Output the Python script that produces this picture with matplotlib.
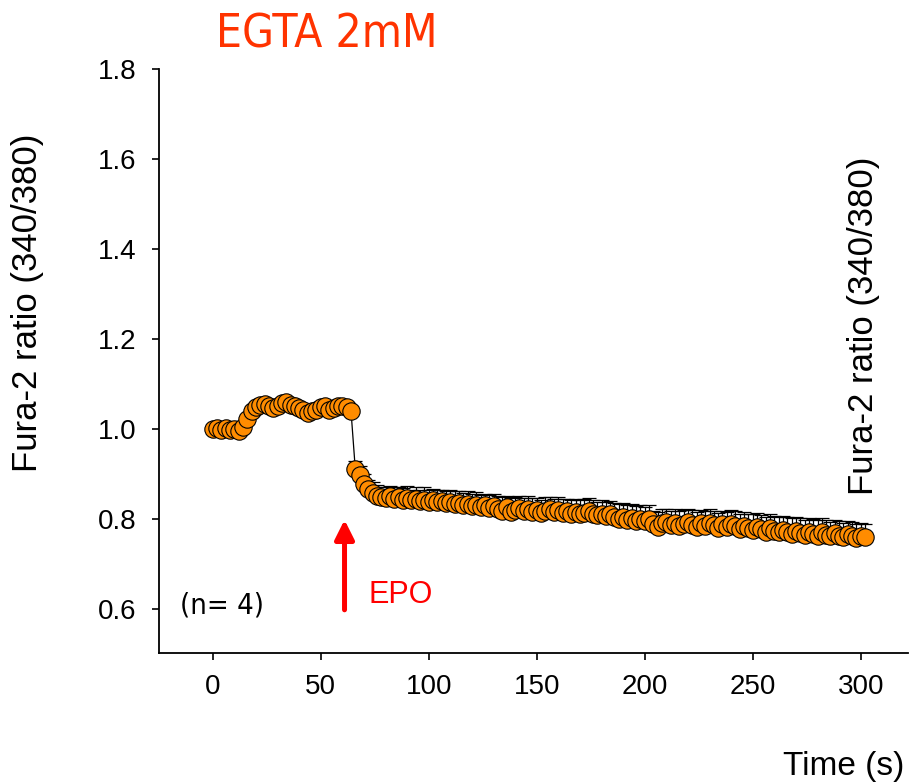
import numpy as np
import matplotlib
matplotlib.use("Agg")
import matplotlib.pyplot as plt
from matplotlib import font_manager

# baseline (before EPO), sampled every 2 s
t_pre = np.arange(0, 66, 2)
ratio_pre = [1.000, 1.002, 0.998, 1.001, 0.997, 0.999, 0.995, 1.004,
             1.022, 1.040, 1.049, 1.053, 1.055, 1.050, 1.047, 1.052,
             1.057, 1.060, 1.054, 1.050, 1.046, 1.041, 1.036, 1.039,
             1.043, 1.048, 1.050, 1.041, 1.046, 1.052, 1.050, 1.048,
             1.040]
sem_pre = [0.008, 0.007, 0.008, 0.009, 0.008, 0.007, 0.008, 0.009,
           0.010, 0.011, 0.010, 0.012, 0.011, 0.010, 0.012, 0.011,
           0.012, 0.011, 0.010, 0.012, 0.011, 0.012, 0.010, 0.011,
           0.012, 0.011, 0.010, 0.012, 0.011, 0.012, 0.011, 0.010,
           0.012]

# after EPO
t_post = np.arange(66, 304, 2)
ratio_post = [0.910, 0.898, 0.878, 0.866, 0.858, 0.852, 0.848, 0.846,
              0.850, 0.844, 0.848, 0.843, 0.846, 0.841, 0.845, 0.840,
              0.843, 0.838, 0.842, 0.837, 0.840, 0.835, 0.838, 0.834,
              0.836, 0.830, 0.834, 0.829, 0.832, 0.826, 0.830, 0.824,
              0.828, 0.822, 0.818, 0.826, 0.815, 0.820, 0.824, 0.818,
              0.822, 0.816, 0.820, 0.814, 0.818, 0.821, 0.815, 0.819,
              0.813, 0.817, 0.812, 0.816, 0.810, 0.814, 0.818, 0.811,
              0.808, 0.812, 0.806, 0.810, 0.804, 0.800, 0.805, 0.798,
              0.802, 0.796, 0.800, 0.795, 0.799, 0.788, 0.782, 0.790,
              0.794, 0.786, 0.791, 0.784, 0.789, 0.793, 0.787, 0.781,
              0.790, 0.785, 0.792, 0.786, 0.780, 0.788, 0.783, 0.789,
              0.784, 0.778, 0.785, 0.780, 0.776, 0.783, 0.777, 0.772,
              0.779, 0.774, 0.770, 0.776, 0.771, 0.767, 0.774, 0.769,
              0.765, 0.772, 0.767, 0.763, 0.770, 0.765, 0.761, 0.768,
              0.763, 0.760, 0.766, 0.761, 0.758, 0.762, 0.760]
sem_post = [0.018, 0.020, 0.022, 0.021, 0.023, 0.024, 0.022, 0.025,
            0.024, 0.026, 0.023, 0.025, 0.027, 0.024, 0.026, 0.025,
            0.027, 0.026, 0.024, 0.028, 0.025, 0.027, 0.026, 0.028,
            0.025, 0.027, 0.029, 0.026, 0.028, 0.027, 0.025, 0.029,
            0.027, 0.028, 0.030, 0.026, 0.031, 0.028, 0.027, 0.029,
            0.028, 0.030, 0.027, 0.029, 0.031, 0.028, 0.030, 0.029,
            0.031, 0.028, 0.030, 0.029, 0.032, 0.030, 0.028, 0.031,
            0.030, 0.029, 0.032, 0.030, 0.031, 0.033, 0.030, 0.032,
            0.031, 0.033, 0.030, 0.032, 0.031, 0.030, 0.033, 0.031,
            0.029, 0.032, 0.030, 0.033, 0.031, 0.029, 0.032, 0.034,
            0.030, 0.032, 0.029, 0.031, 0.033, 0.030, 0.032, 0.031,
            0.033, 0.034, 0.031, 0.032, 0.034, 0.030, 0.032, 0.033,
            0.031, 0.032, 0.034, 0.031, 0.033, 0.034, 0.030, 0.032,
            0.033, 0.031, 0.032, 0.034, 0.031, 0.032, 0.033, 0.030,
            0.032, 0.031, 0.030, 0.032, 0.031, 0.030, 0.028]

time = np.concatenate([t_pre, t_post])
ratio = np.array(ratio_pre + ratio_post)
sem = np.array(sem_pre + sem_post)

xticks = [0, 50, 100, 150, 200, 250, 300]
yticks = [0.6, 0.8, 1.0, 1.2, 1.4, 1.6, 1.8]
epo_time = 61

plt.rcParams['font.family'] = ['Liberation Sans', 'DejaVu Sans']

# look for a narrow face for the title, else shrink the regular one
fonts = font_manager.fontManager.ttflist
names = {f.name for f in fonts}
if 'Liberation Sans Narrow' in names:
    title_font = dict(family='Liberation Sans Narrow', fontsize=36)
    n_font = dict(family='Liberation Sans Narrow', fontsize=24)
elif any(f.name == 'DejaVu Sans' and 'condensed' in str(f.stretch) for f in fonts):
    title_font = dict(family='DejaVu Sans', fontstretch='condensed', fontsize=33)
    n_font = dict(family='DejaVu Sans', fontstretch='condensed', fontsize=21)
else:
    title_font = dict(fontsize=31)
    n_font = dict(fontsize=21)

fig = plt.figure(figsize=(9.1, 7.84), dpi=100)
ax = fig.add_axes([159/910, 1 - 653/784, (908 - 159)/910, (653 - 69)/784])

ax.errorbar(time, ratio, yerr=[np.zeros_like(sem), sem], fmt='none',
            ecolor='black', elinewidth=0.9, capsize=5, capthick=0.9, zorder=2)
ax.plot(time, ratio, '-o', color='black', lw=0.9, markersize=12.5,
        markerfacecolor='#FF8C00', markeredgecolor='black',
        markeredgewidth=0.8, zorder=3)

ax.set_xlim(-24.9, 321.9)
ax.set_ylim(0.502, 1.8)
ax.set_xticks(xticks)
ax.set_yticks(yticks)
ax.set_yticklabels([f"{v:.1f}" for v in yticks])
ax.tick_params(direction='out', length=5, width=1.2, labelsize=20)
ax.tick_params(axis='y', pad=11)
ax.tick_params(axis='x', pad=10)
for s in ['top', 'right']:
    ax.spines[s].set_visible(False)
for s in ['left', 'bottom']:
    ax.spines[s].set_linewidth(1.3)

# EPO arrow
ax.annotate('', xy=(epo_time, 0.798), xytext=(epo_time, 0.598),
            arrowprops=dict(arrowstyle='-|>', color='red', lw=3.6,
                            mutation_scale=29, shrinkA=0, shrinkB=0))
ax.text(72, 0.613, 'EPO', color='red', fontsize=22, va='baseline', ha='left')
ax.text(4.3, 0.589, '(n= 4)', va='baseline', ha='center', **n_font)

fig.text(327/910, 1 - 48/784, 'EGTA 2mM', color='#FF3300',
         ha='center', va='baseline', **title_font)
fig.text(28/910, 1 - 303/784, 'Fura-2 ratio (340/380)', fontsize=25,
         rotation=90, ha='center', va='center')
fig.text(864/910, 1 - 326/784, 'Fura-2 ratio (340/380)', fontsize=25,
         rotation=90, ha='center', va='center')
fig.text(904/910, 1 - 775/784, 'Time (s)', fontsize=24,
         ha='right', va='baseline')

fig.savefig('out.png', dpi=100)
